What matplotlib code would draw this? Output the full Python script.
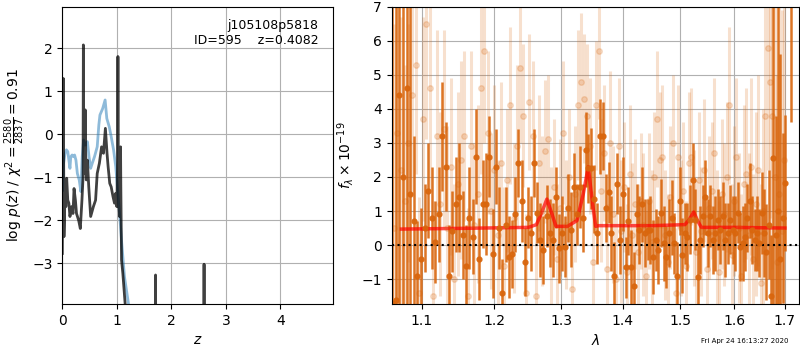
import matplotlib
matplotlib.use("Agg")
import matplotlib.pyplot as plt
from matplotlib.ticker import NullLocator, NullFormatter

# ---------------- left panel: log p(z) ----------------
z_fine = [0.0, 0.01, 0.018, 0.026, 0.03, 0.05, 0.065, 0.08, 0.1, 0.12, 0.14, 0.17, 0.196,
          0.215, 0.24, 0.26, 0.30, 0.33, 0.36, 0.38, 0.386, 0.392, 0.405, 0.415, 0.42,
          0.425, 0.44, 0.46, 0.485, 0.52, 0.57, 0.61, 0.64, 0.68, 0.72, 0.755, 0.79,
          0.82, 0.84, 0.87, 0.896, 0.93, 0.957, 0.98, 1.0, 1.015, 1.02, 1.025, 1.037,
          1.05, 1.063, 1.068, 1.073, 1.086, 1.11, 1.153, 1.2, 1.70, 1.705, 1.71, 1.715,
          1.72, 2.59, 2.595, 2.60, 2.605, 2.61, 4.97]
lnp_fine = [-2.77, -0.5, 1.30, -1.0, -2.38, -1.37, -1.68, -1.02, -1.53, -1.60, -1.91, -1.68,
            -1.84, -1.26, -1.53, -1.84, -2.00, -2.19, -1.53, -1.0, 2.08, -0.5, -0.91, -0.2,
            0.57, -0.3, -1.06, -0.60, -1.22, -1.91, -1.68, -1.53, -0.91, -0.67, -0.29, -0.44,
            0.14, -0.44, -0.75, -1.14, -1.22, -1.45, -1.60, -1.37, -1.68, -0.5, 1.81, -0.5,
            -1.60, -1.91, -1.2, -0.29, -1.2, -2.92, -3.23, -3.95, -5.0, -8.0, -5.5, -3.27,
            -5.5, -8.0, -8.0, -5.5, -3.02, -5.5, -8.0, -8.0]

z_coarse = [0.005, 0.02, 0.05, 0.075, 0.1, 0.14, 0.155, 0.18, 0.205, 0.225, 0.25, 0.276,
            0.31, 0.34, 0.365, 0.39, 0.42, 0.46, 0.49, 0.52, 0.55, 0.59, 0.64, 0.67, 0.69,
            0.74, 0.785, 0.816, 0.86, 0.896, 0.94, 0.98, 1.01, 1.05, 1.09, 1.14, 1.215, 1.3]
lnp_coarse = [-1.3, -0.7, -0.44, -0.36, -0.40, -0.79, -0.52, -0.48, -0.52, -0.48, -0.60,
              -0.91, -1.06, -1.33, -0.52, -0.13, -0.25, -0.17, -0.52, -0.79, -0.67, -0.52,
              -0.29, 0.22, 0.45, 0.60, 0.80, 0.37, 0.18, -0.05, -0.36, -0.75, -1.22, -1.84,
              -2.53, -3.31, -3.95, -4.8]

z_ticks = [0, 1, 2, 3, 4]
lnp_ticks = [-3, -2, -1, 0, 1, 2]

# ---------------- right panel: spectrum ----------------
lam = [1.0615, 1.0660, 1.0707, 1.0754, 1.0801, 1.0848, 1.0895, 1.0942, 1.0989, 1.1036,
       1.1083, 1.1130, 1.1177, 1.1224, 1.1271, 1.1318, 1.1365, 1.1412, 1.1459, 1.1506,
       1.1553, 1.1600, 1.1647, 1.1694, 1.1741, 1.1788, 1.1835, 1.1882, 1.1929, 1.1976,
       1.2023, 1.2070, 1.2117, 1.2164, 1.2211, 1.2258, 1.2305, 1.2352, 1.2399, 1.2446,
       1.2493, 1.2540, 1.2587, 1.2634, 1.2681, 1.2728, 1.2775, 1.2822, 1.2869, 1.2916,
       1.2963, 1.3010, 1.3057, 1.3104, 1.3151, 1.3198, 1.3245, 1.3292, 1.3339, 1.3386,
       1.3433, 1.3480, 1.3527, 1.3574, 1.3621, 1.3668, 1.3715, 1.3762, 1.3809, 1.3856,
       1.3903, 1.3950, 1.3997, 1.4044, 1.4091, 1.4138, 1.4185, 1.4232, 1.4279, 1.4326,
       1.4373, 1.4420, 1.4467, 1.4514, 1.4561, 1.4608, 1.4655, 1.4702, 1.4749, 1.4796,
       1.4843, 1.4890, 1.4937, 1.4984, 1.5031, 1.5078, 1.5125, 1.5172, 1.5219, 1.5266,
       1.5313, 1.5360, 1.5407, 1.5454, 1.5501, 1.5548, 1.5595, 1.5642, 1.5689, 1.5736,
       1.5783, 1.5830, 1.5877, 1.5924, 1.5971, 1.6018, 1.6065, 1.6112, 1.6159, 1.6206,
       1.6253, 1.6300, 1.6347, 1.6394, 1.6441, 1.6488, 1.6535, 1.6582, 1.6629, 1.6676,
       1.6723, 1.6770, 1.6817, 1.6864, 1.6911, 1.6958, 1.7005, 1.7120]

flux_bin = [-1.7, -1.6, 4.4, 2.0, 4.6, 1.5, 0.7, -0.9, -0.4, 0.5,
            1.6, 0.8, 0.1, 0.9, 3.2, 2.3, -0.9, 0.4, 1.2, 1.4,
            0.3, -0.6, 0.8, 0.25, 2.6, -0.4, 1.2, 1.2, 2.6, -0.25,
            2.3, 0.5, -1.4, 0.6, -0.35, -0.25, 0.9, 2.4, 1.3, -0.5,
            0.8, 0.35, 2.4, 0.95, 0.15, -0.15, 0.85, 0.35, 0.15, 1.4,
            -0.1, 0.35, -0.05, 1.1, 0.45, 1.7, 0.9, 1.7, 0.8, 2.8,
            2.25, 2.25, 1.35, 0.35, 3.2, 3.2, 1.1, 1.55, 0.35, -0.9,
            1.8, 0.15, 1.5, -0.65, 0.7, -0.65, -1.2, 0.9, 0.45, 1.2,
            0.35, 0.45, 0.45, -0.35, 0.15, -0.15, 0.95, 0.05, -0.35, 0.35,
            0.8, 0.05, -0.9, 1.3, -0.3, 0.35, 0.25, 0.75, 1.9, 0.75,
            -0.95, 0.15, 0.85, 1.4, 0.35, 0.85, 0.15, 0.35, 0.75, 0.45,
            0.85, 0.15, 0.35, 0.75, 0.45, 0.35, 0.95, -0.05, 0.05, 0.25,
            0.8, 1.3, 0.45, 0.15, 0.35, 0.05, 0.95, 0.35, -0.2, 0.6,
            -1.5, 2.55, 0.3, 1.0, -0.4, 0.8, 1.83, 8.0]
err_bin = [9.0, 9.0, 9.0, 9.0, 8.0, 6.0, 2.5, 1.6, 1.5, 1.3,
           1.4, 1.5, 1.2, 1.4, 1.6, 1.3, 1.5, 1.2, 1.4, 1.6,
           1.3, 1.2, 1.5, 1.1, 1.4, 1.2, 1.3, 1.5, 1.2, 1.3,
           1.1, 1.2, 1.0, 1.1, 1.2, 1.0, 1.1, 1.0, 1.2, 1.0,
           0.9, 1.1, 1.0, 0.9, 1.1, 1.0, 0.9, 1.0, 1.1, 0.9,
           1.0, 1.1, 0.9, 1.0, 1.1, 1.0, 0.9, 1.2, 1.0, 1.1,
           1.0, 1.2, 1.0, 0.9, 1.1, 1.0, 1.0, 0.9, 1.1, 1.0,
           0.9, 1.0, 1.1, 0.9, 1.0, 1.1, 1.0, 0.9, 1.0, 1.1,
           1.0, 0.9, 1.0, 1.1, 0.9, 1.0, 1.0, 1.1, 0.9, 1.0,
           1.1, 0.9, 1.0, 1.0, 1.1, 0.9, 1.0, 1.0, 1.1, 0.9,
           1.0, 1.0, 0.9, 1.1, 1.0, 0.9, 1.0, 1.1, 0.9, 1.0,
           1.0, 1.1, 0.9, 1.0, 1.0, 1.1, 0.9, 1.0, 1.1, 1.0,
           1.0, 1.1, 1.0, 0.9, 1.1, 1.0, 1.2, 1.3, 1.4, 1.6,
           1.8, 6.0, 3.5, 8.0, 6.0, 2.5, 2.0, 4.4]

lam_beam = [1.0638, 1.0683, 1.0730, 1.0777, 1.0824, 1.0871, 1.0918, 1.0965, 1.1012, 1.1059,
            1.1106, 1.1153, 1.1200, 1.1247, 1.1294, 1.1341, 1.1388, 1.1435, 1.1482, 1.1529,
            1.1576, 1.1623, 1.1670, 1.1717, 1.1764, 1.1811, 1.1858, 1.1905, 1.1952, 1.1999,
            1.2046, 1.2093, 1.2140, 1.2187, 1.2234, 1.2281, 1.2328, 1.2375, 1.2422, 1.2469,
            1.2516, 1.2563, 1.2610, 1.2657, 1.2704, 1.2751, 1.2798, 1.2845, 1.2892, 1.2939,
            1.2986, 1.3033, 1.3080, 1.3127, 1.3174, 1.3221, 1.3268, 1.3315, 1.3362, 1.3409,
            1.3456, 1.3503, 1.3550, 1.3597, 1.3644, 1.3691, 1.3738, 1.3785, 1.3832, 1.3879,
            1.3926, 1.3973, 1.4020, 1.4067, 1.4114, 1.4161, 1.4208, 1.4255, 1.4302, 1.4349,
            1.4396, 1.4443, 1.4490, 1.4537, 1.4584, 1.4631, 1.4678, 1.4725, 1.4772, 1.4819,
            1.4866, 1.4913, 1.4960, 1.5007, 1.5054, 1.5101, 1.5148, 1.5195, 1.5242, 1.5289,
            1.5336, 1.5383, 1.5430, 1.5477, 1.5524, 1.5571, 1.5618, 1.5665, 1.5712, 1.5759,
            1.5806, 1.5853, 1.5900, 1.5947, 1.5994, 1.6041, 1.6088, 1.6135, 1.6182, 1.6229,
            1.6276, 1.6323, 1.6370, 1.6417, 1.6464, 1.6511, 1.6558, 1.6605, 1.6652, 1.6699,
            1.6746, 1.6793, 1.6840, 1.6887, 1.6934, 1.6981]
flux_beam = [0.5, 3.3, 2.2, 1.3, 3.0, 4.4, 5.3, -1.4, 3.7, 6.5,
             4.6, -1.5, 3.2, 1.2, 3.4, 0.5, 2.3, -1.0, 1.8, 2.5,
             3.2, -1.5, 2.9, 0.6, 1.5, 4.6, 5.7, 3.3, 1.0, 2.2,
             0.3, 2.4, -0.6, 1.9, 4.1, 0.8, 2.9, 5.2, 3.8, -1.4,
             4.2, 3.2, -1.5, 2.4, 1.0, 2.75, 3.1, 0.2, 1.7, -0.4,
             1.1, 3.3, 0.6, 2.0, -1.3, 1.5, 4.1, 4.8, 4.3, 3.8,
             2.9, -0.5, 4.1, 5.7, 1.6, 2.7, -0.7, 3.0, 0.9, -1.0,
             2.9, 0.4, 1.7, -0.8, 2.1, 0.3, 1.2, -0.2, 1.3, 0.6,
             -0.9, 1.3, 0.1, 2.0, 3.7, 2.5, 2.6, 0.3, -0.5, 1.4,
             3.0, -1.4, 2.6, 0.5, 1.6, -0.6, 2.4, 2.6, 0.8, -0.2,
             1.9, 0.4, 2.2, -0.7, 1.1, 1.6, 2.7, 0.2, -0.8, 1.5,
             0.9, 2.0, 4.1, -0.3, 1.3, 2.6, 0.5, -0.9, 1.8, 2.1,
             0.3, 2.3, -0.4, 1.2, 2.2, -1.1, 1.0, 3.8, 5.8, 4.8,
             3.8, 2.0, -0.5, 1.5, 0.4, 2.5]
err_beam = [6.0, 5.0, 4.5, 4.0, 3.5, 3.0, 3.2, 2.8, 3.0, 3.4,
            3.0, 2.8, 3.1, 2.7, 2.9, 3.0, 2.6, 2.8, 2.7, 2.9,
            2.5, 2.6, 2.8, 2.4, 2.6, 2.5, 2.7, 2.4, 2.3, 2.5,
            2.2, 2.4, 2.3, 2.1, 2.3, 2.2, 2.4, 2.2, 2.1, 2.3,
            2.0, 2.2, 2.1, 2.0, 2.2, 2.1, 1.9, 2.1, 2.0, 2.2,
            2.0, 2.1, 1.9, 2.0, 2.1, 2.0, 2.2, 2.0, 1.9, 2.1,
            2.0, 2.1, 1.9, 2.0, 2.1, 2.0, 1.9, 2.1, 2.0, 1.9,
            2.0, 2.1, 1.9, 2.0, 2.0, 2.1, 1.9, 2.0, 2.0, 2.1,
            1.9, 2.0, 2.1, 1.9, 2.0, 2.0, 2.1, 1.9, 2.0, 2.1,
            2.0, 1.9, 2.1, 2.0, 2.0, 1.9, 2.1, 2.0, 2.0, 2.1,
            2.0, 1.9, 2.1, 2.0, 2.1, 2.0, 2.2, 2.0, 2.1, 2.2,
            2.1, 2.2, 2.3, 2.1, 2.2, 2.3, 2.2, 2.4, 2.3, 2.5,
            2.4, 2.6, 2.5, 2.7, 2.8, 2.9, 3.0, 3.3, 3.6, 4.0,
            4.5, 5.0, 5.5, 6.0, 6.5, 7.0]

lam_model = [1.0735, 1.15, 1.25, 1.262, 1.27, 1.278, 1.286, 1.292, 1.31, 1.325, 1.335,
             1.343, 1.350, 1.355, 1.36, 1.45, 1.508, 1.516, 1.524, 1.531, 1.538, 1.60, 1.70]
flux_model = [0.47, 0.49, 0.52, 0.60, 0.95, 1.35, 0.90, 0.55, 0.55, 0.72, 1.50,
              2.30, 1.20, 0.55, 0.57, 0.57, 0.60, 0.75, 0.97, 0.72, 0.52, 0.52, 0.50]

lam_ticks = [1.1, 1.2, 1.3, 1.4, 1.5, 1.6, 1.7]
flux_ticks = [-1, 0, 1, 2, 3, 4, 5, 6, 7]

grism_color = (0.85, 0.40, 0.05)

fig = plt.figure(figsize=(8, 3.5), dpi=100)

# left
ax1 = fig.add_axes([0.0779, 0.1314, 0.3387, 0.8496])
ax1.plot(z_coarse, lnp_coarse, color='tab:blue', alpha=0.5, lw=2)
ax1.plot(z_fine, lnp_fine, color='k', alpha=0.75, lw=2)
ax1.set_xlim(0, 4.97)
ax1.set_ylim(-3.945, 2.97)
ax1.set_xticks(z_ticks)
ax1.set_yticks(lnp_ticks)
ax1.grid(True)
ax1.set_xlabel(r'$z$')
ax1.set_ylabel(r'$\log\,p(z)$' + ' / ' + r'$\chi^2=\frac{2580}{2837}=0.91$')
ax1.text(0.945, 0.96, 'j105108p5818\nID=595    z=0.4082', ha='right', va='top',
         transform=ax1.transAxes, fontsize=9)

# right
ax2 = fig.add_axes([0.4896, 0.1314, 0.5091, 0.8496])
ax2.errorbar(lam_beam, flux_beam, yerr=err_beam, marker='o', linestyle='None',
             color=grism_color, alpha=0.2, ms=4, elinewidth=2.2, capsize=0)
ax2.errorbar(lam, flux_bin, yerr=err_bin, marker='o', linestyle='None',
             color=grism_color, alpha=0.9, ms=3.5, elinewidth=1.8, capsize=0)
ax2.plot(lam_model, flux_model, color='r', alpha=0.7, lw=2.5)
ax2.axhline(0, color='k', linestyle=':', lw=1.5)
ax2.set_xscale('log')
ax2.set_xlim(1.061, 1.729)
ax2.set_ylim(-1.73, 7)
ax2.set_xticks(lam_ticks)
ax2.set_xticklabels([f'{t:.1f}' for t in lam_ticks])
ax2.xaxis.set_minor_locator(NullLocator())
ax2.xaxis.set_minor_formatter(NullFormatter())
ax2.set_yticks(flux_ticks)
ax2.grid(True)
ax2.set_xlabel(r'$\lambda$')
ax2.set_ylabel(r'$f_\lambda\times10^{-19}$')

fig.text(0.931, 0.026, 'Fri Apr 24 16:13:27 2020', ha='center', va='center', fontsize=5)

fig.savefig('out.png', dpi=100)
